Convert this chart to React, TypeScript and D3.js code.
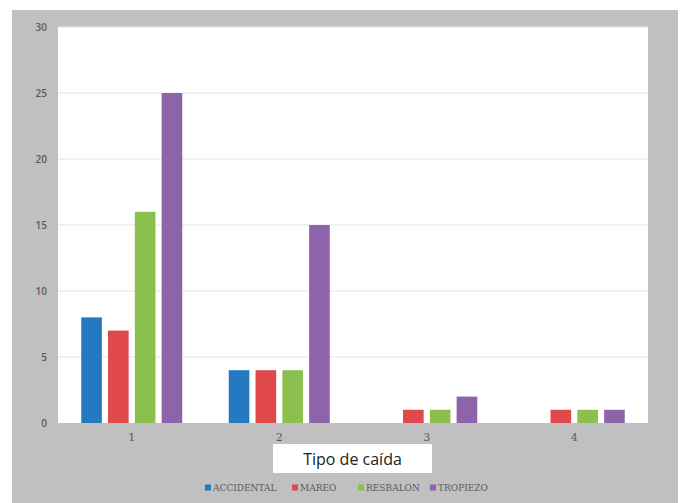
import React, { useEffect, useRef } from "react";
import * as d3 from "d3";

const groups = ["1", "2", "3", "4"];
const seriesNames = ["ACCIDENTAL", "MAREO", "RESBALON", "TROPIEZO"];
const accidental = [8, 4, 0, 0];
const mareo = [7, 4, 1, 1];
const resbalon = [16, 4, 1, 1];
const tropiezo = [25, 15, 2, 1];
const yTicks = [0, 5, 10, 15, 20, 25, 30];
const colors = ["#2479c0", "#df494b", "#8bc04f", "#8d63aa"];

const App: React.FC = () => {
  const ref = useRef<SVGSVGElement | null>(null);
  const width = 682;
  const height = 503;

  useEffect(() => {
    document.body.style.margin = "0";
    if (!ref.current) return;
    const svg = d3.select(ref.current);
    svg.selectAll("*").remove();

    const values = [accidental, mareo, resbalon, tropiezo];

    // background panel
    svg
      .append("rect")
      .attr("x", 12)
      .attr("y", 10)
      .attr("width", 666)
      .attr("height", 493)
      .attr("fill", "#c0c0c0");

    const plot = { left: 58, right: 648, top: 27, bottom: 423 };

    svg
      .append("rect")
      .attr("x", plot.left)
      .attr("y", plot.top)
      .attr("width", plot.right - plot.left)
      .attr("height", plot.bottom - plot.top)
      .attr("fill", "#ffffff");

    const x0 = d3
      .scaleBand<string>()
      .domain(groups)
      .range([plot.left, plot.right])
      .paddingInner(0.315)
      .paddingOuter(0.1575);

    const x1 = d3
      .scaleBand<string>()
      .domain(seriesNames)
      .range([0, x0.bandwidth()])
      .paddingInner(0.23)
      .paddingOuter(0);

    const y = d3.scaleLinear().domain([0, 30]).range([plot.bottom, plot.top]);

    // gridlines
    svg
      .append("g")
      .selectAll("line")
      .data(yTicks.filter((t) => t > 0))
      .join("line")
      .attr("x1", plot.left)
      .attr("x2", plot.right)
      .attr("y1", (d) => y(d))
      .attr("y2", (d) => y(d))
      .attr("stroke", "#e3e3e3")
      .attr("stroke-width", 1);

    // y labels
    svg
      .append("g")
      .selectAll("text")
      .data(yTicks)
      .join("text")
      .attr("x", 47)
      .attr("y", (d) => y(d))
      .attr("dy", "0.35em")
      .attr("text-anchor", "end")
      .style("font-family", "'Open Sans', sans-serif")
      .style("font-size", "10px")
      .style("font-weight", "600")
      .style("fill", "#5a5a5a")
      .text((d) => d);

    // bars
    const barGroups = svg
      .append("g")
      .selectAll("g")
      .data(groups)
      .join("g")
      .attr("transform", (g) => `translate(${x0(g)},0)`);

    barGroups
      .selectAll("rect")
      .data((g, gi) => seriesNames.map((s, si) => ({ s, si, v: values[si][gi] })))
      .join("rect")
      .filter((d) => d.v > 0)
      .attr("x", (d) => x1(d.s)!)
      .attr("y", (d) => y(d.v))
      .attr("width", x1.bandwidth())
      .attr("height", (d) => y(0) - y(d.v))
      .attr("fill", (d) => colors[d.si]);

    // x labels
    svg
      .append("g")
      .selectAll("text")
      .data(groups)
      .join("text")
      .attr("x", (g) => x0(g)! + x0.bandwidth() / 2)
      .attr("y", 441)
      .attr("text-anchor", "middle")
      .style("font-family", "'DejaVu Serif', serif")
      .style("font-size", "11px")
      .style("fill", "#5a5a5a")
      .text((g) => g);

    // axis title box
    svg
      .append("rect")
      .attr("x", 273)
      .attr("y", 444)
      .attr("width", 159)
      .attr("height", 29)
      .attr("fill", "#ffffff");

    svg
      .append("text")
      .attr("x", 352.5)
      .attr("y", 459)
      .attr("dy", "0.35em")
      .attr("text-anchor", "middle")
      .style("font-family", "'Open Sans', sans-serif")
      .style("font-size", "16px")
      .style("fill", "#222")
      .text("Tipo de caída");

    // legend
    const legendX = [205, 292, 358, 430];
    const legend = svg
      .append("g")
      .selectAll("g")
      .data(seriesNames)
      .join("g")
      .attr("transform", (d, i) => `translate(${legendX[i]},488)`);

    legend
      .append("rect")
      .attr("x", 0)
      .attr("y", -3.5)
      .attr("width", 6)
      .attr("height", 6)
      .attr("fill", (d, i) => colors[i]);

    legend
      .append("text")
      .attr("x", 8)
      .attr("y", 0)
      .attr("dy", "0.35em")
      .style("font-family", "'DejaVu Serif', serif")
      .style("font-size", "9px")
      .style("fill", "#595959")
      .text((d) => d);
  }, []);

  return <svg ref={ref} width={width} height={height} style={{ display: "block" }} />;
};

export default App;
